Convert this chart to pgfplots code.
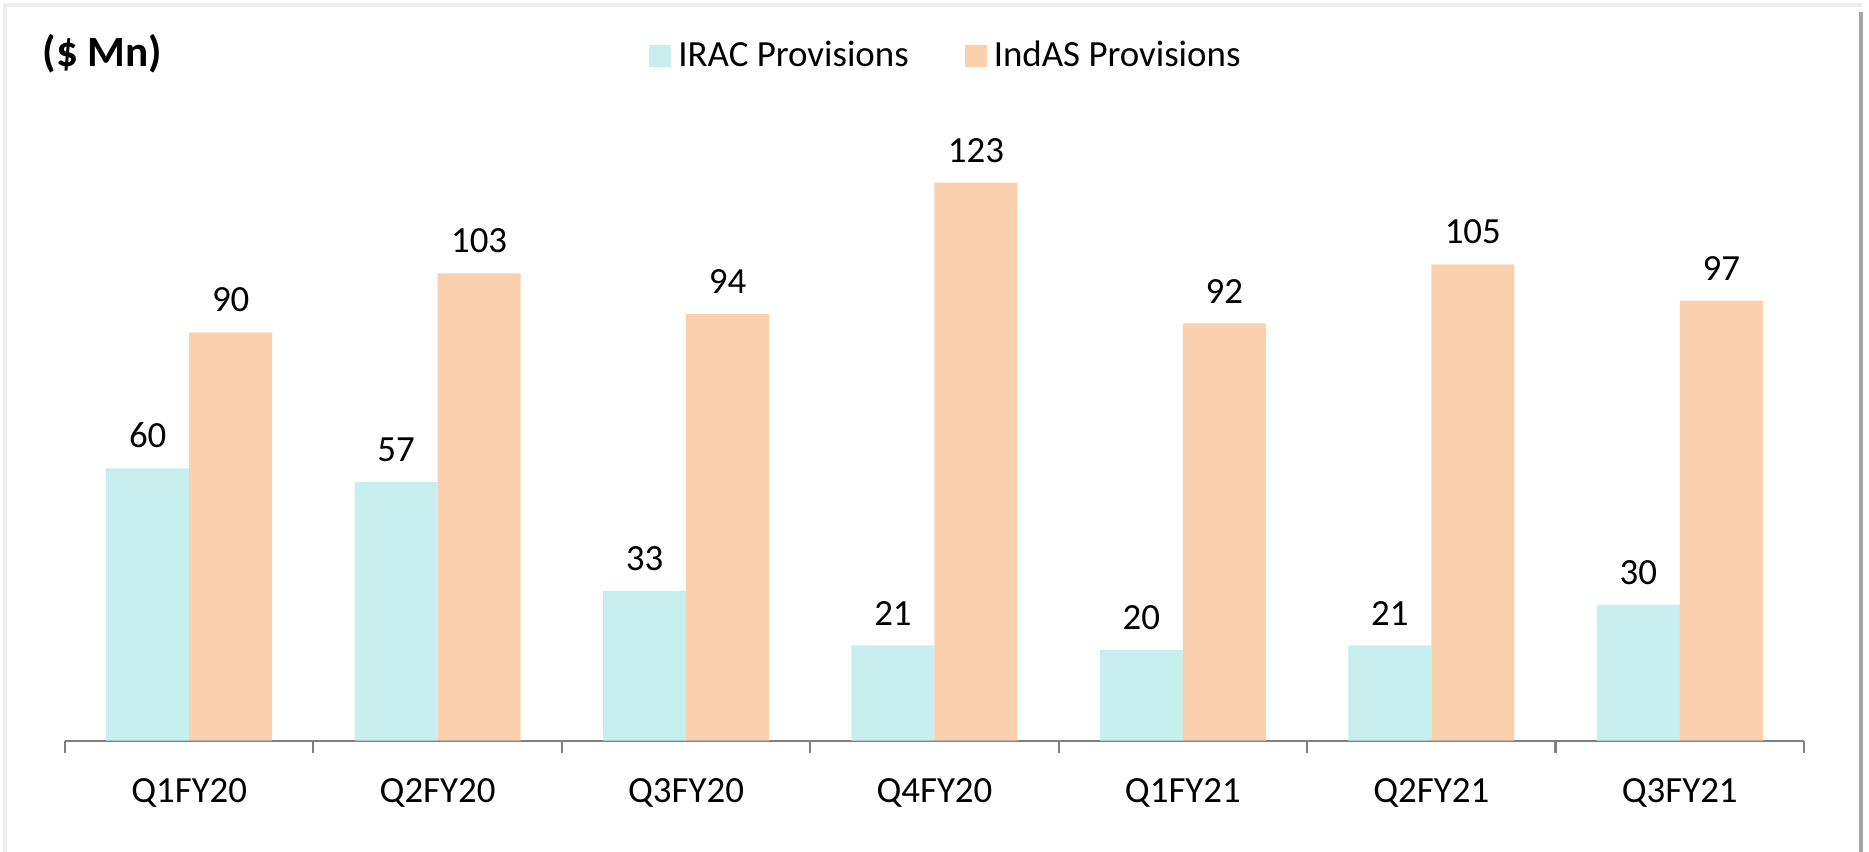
\documentclass[border=0pt]{standalone}
\usepackage{fontspec}
\setmainfont{Carlito}
\usepackage{pgfplots}
\pgfplotsset{compat=1.18}
\definecolor{irac}{HTML}{C7EFED}
\definecolor{indas}{HTML}{FAD0AE}
\definecolor{axgray}{HTML}{808080}
\begin{document}
\begin{tikzpicture}
\useasboundingbox (0,0) rectangle (186.9mm,85.2mm);
\fill[white] (0,0) rectangle (186.9mm,85.2mm);
\draw[black!7, line width=0.4mm] (0.5mm,0) -- (0.5mm,84.7mm) -- (186.2mm,84.7mm);
\fill[black!35] (185.9mm,0) rectangle (186.3mm,84.0mm);
\node[anchor=west, inner sep=0, font=\bfseries\fontsize{12.3}{14}\selectfont] at (4.2mm,79.8mm) {(\$ Mn)};
\begin{axis}[
  at={(6.5mm,11.13mm)}, anchor=south west,
  scale only axis, width=173.9mm, height=63.52mm,
  xmin=-0.5, xmax=6.5, ymin=0, ymax=140,
  axis y line=none, axis x line*=bottom,
  x axis line style={-, draw=axgray, line width=0.6pt},
  ybar=0pt, bar width=8.3mm,
  xtick={-0.5,0.5,...,6.5}, xticklabels={},
  major tick length=1.2mm, tick align=outside,
  x tick style={draw=axgray, line width=0.6pt},
  extra x ticks={0,1,2,3,4,5,6},
  extra x tick labels={Q1FY20,Q2FY20,Q3FY20,Q4FY20,Q1FY21,Q2FY21,Q3FY21},
  extra x tick style={major tick length=0pt},
  xticklabel style={font=\fontsize{10.5}{12}\selectfont, inner sep=0pt, anchor=north, yshift=-3.75mm},
  /pgf/number format/assume math mode=true,
  nodes near coords,
  every node near coord/.append style={font=\fontsize{10.5}{12}\selectfont, anchor=south, inner sep=0pt, yshift=1.95mm},
  clip=false,
  legend columns=2,
  legend style={draw=none, fill=none, at={(0.504,1)}, anchor=center, yshift=4.9mm, xshift=0.7mm,
    font=\fontsize{10.5}{12}\selectfont,
    /tikz/every even column/.append style={column sep=4.9mm}},
  legend image code/.code={\fill[#1] (0mm,-1.1mm) rectangle (2.2mm,1.1mm);},
]
\addplot[fill=irac, draw=none] coordinates {(0,60) (1,57) (2,33) (3,21) (4,20) (5,21) (6,30)};
\addplot[fill=indas, draw=none] coordinates {(0,90) (1,103) (2,94) (3,123) (4,92) (5,105) (6,97)};
\legend{IRAC Provisions, IndAS Provisions}
\end{axis}
\end{tikzpicture}
\end{document}
